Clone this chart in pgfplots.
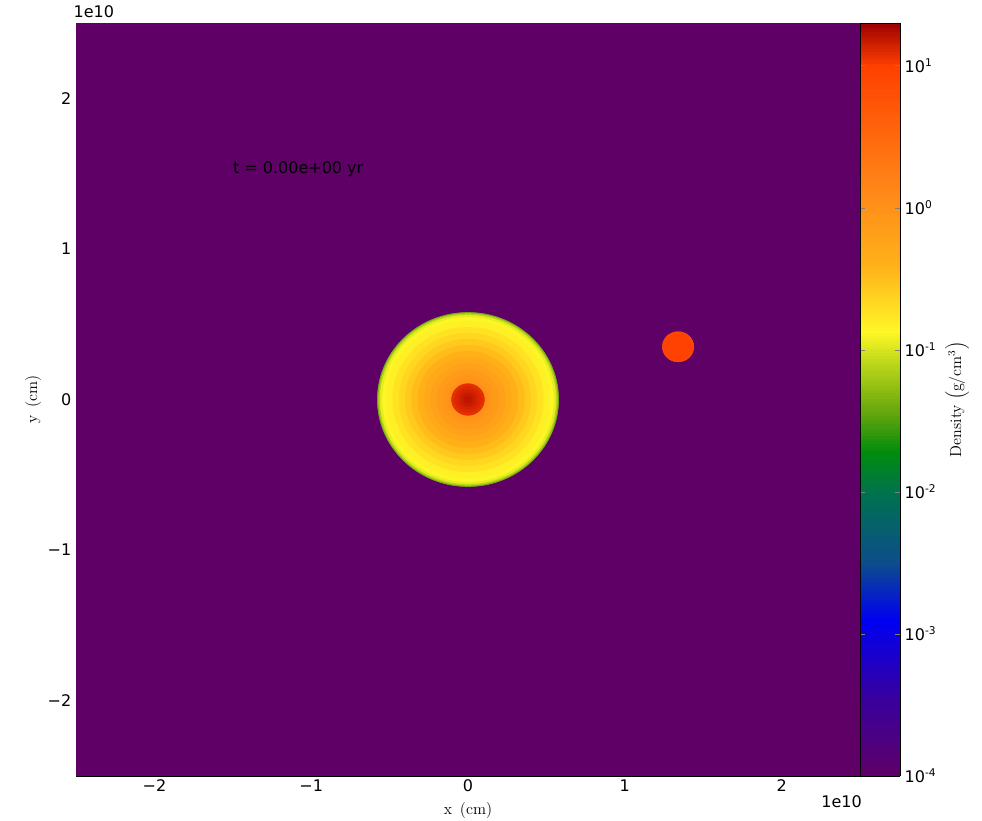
\documentclass[border=0pt]{standalone}
\usepackage{pgfplots}
\usepackage{pgfplotstable}
\pgfplotsset{compat=1.18}
\usepackage{fontspec}
\newfontfamily\dejavu{DejaVu Sans}

% radial density profile of the primary (x, y, r in 1e10 cm; log10 of g/cm^3)
\pgfplotstableread{
x    y    r      logrho
0    0    0.578  -1.35
0    0    0.570  -1.12
0    0    0.560  -0.95
0    0    0.545  -0.88
0    0    0.520  -0.82
0    0    0.480  -0.74
0    0    0.440  -0.66
0    0    0.400  -0.57
0    0    0.360  -0.48
0    0    0.320  -0.39
0    0    0.280  -0.30
0    0    0.240  -0.21
0    0    0.200  -0.12
0    0    0.160  -0.05
0    0    0.130   0.00
0    0    0.105   1.08
0    0    0.085   1.11
0    0    0.065   1.14
0    0    0.045   1.17
0    0    0.025   1.20
}\primary

% companion
\pgfplotstableread{
x     y     r      logrho
1.34  0.35  0.100  0.80
1.34  0.35  0.094  0.98
}\companion

\pgfplotsset{
  colormap={density}{
    rgb(0pt)=(0.37,0.00,0.40)
    rgb(55pt)=(0.22,0.00,0.62)
    rgb(110pt)=(0.00,0.00,0.95)
    rgb(150pt)=(0.05,0.30,0.55)
    rgb(200pt)=(0.00,0.45,0.30)
    rgb(228pt)=(0.00,0.55,0.05)
    rgb(256pt)=(0.40,0.65,0.05)
    rgb(292pt)=(0.75,0.85,0.10)
    rgb(313pt)=(1.00,0.97,0.15)
    rgb(358pt)=(1.00,0.70,0.10)
    rgb(406pt)=(1.00,0.55,0.10)
    rgb(453pt)=(1.00,0.40,0.05)
    rgb(500pt)=(1.00,0.25,0.00)
    rgb(530pt)=(0.62,0.00,0.00)
  },
  colorbar shift/.style={},
  disc/.style={scatter, only marks, mark=*, point meta=explicit,
    scatter/use mapped color={draw=mapped color, fill=mapped color},
    visualization depends on={\thisrow{r} \as \rad},
    scatter/@pre marker code/.append style={/tikz/mark size=\rad*112.95pt,
      /tikz/xscale=1.0412, /tikz/line width=0.2pt}},
}

\begin{document}
\begin{tikzpicture}
\useasboundingbox (-57pt,-33.75pt) rectangle (679.5pt,582pt);
\begin{axis}[
  at={(0,0)}, anchor=south west,
  scale only axis,
  width=588pt, height=564.75pt,
  xmin=-2.5, xmax=2.5, ymin=-2.5, ymax=2.5,
  clip mode=individual,
  colormap name=density,
  point meta min=-4, point meta max=1.3,
  xtick={-2,-1,0,1,2}, ytick={-2,-1,0,1,2},
  xticklabels={−2,−1,0,1,2},
  yticklabels={−2,−1,0,1,2},
  /pgf/number format/assume math mode=true,
  tick label style={font=\dejavu\fontsize{12}{14}\selectfont},
  xticklabel style={yshift=1pt},
  tick align=inside,
  major tick length=3pt,
  axis line style={black, line width=0.6pt},
  xlabel={$\mathrm{x}\ \left(\mathrm{cm}\right)$},
  ylabel={$\mathrm{y}\ \left(\mathrm{cm}\right)$},
  label style={font=\fontsize{12}{14}\selectfont},
  xlabel style={at={(axis description cs:0.5,-0.0452)}, anchor=center},
  ylabel style={at={(axis description cs:-0.0548,0.5)}, anchor=center},
  colorbar sampled,
  colorbar style={
    at={(parent axis.north east)}, anchor=north west,
    width=30pt, height=564.75pt,
    samples=266,
    ytick={-4,-3,-2,-1,0,1},
    yticklabels={10\textsuperscript{-4},10\textsuperscript{-3},10\textsuperscript{-2},
                 10\textsuperscript{-1},10\textsuperscript{0},10\textsuperscript{1}},
    yticklabel style={font=\dejavu\fontsize{12}{14}\selectfont},
    ytick align=inside,
    major tick length=4pt,
    axis line style={black, line width=0.6pt},
    ylabel={Density\ $\left(\mathrm{g/cm^3}\right)$},
    ylabel style={font=\fontsize{12}{14}\selectfont,
      at={(axis description cs:2.425,0.5)}, anchor=center},
  },
]
% ambient medium at the density floor
\addplot[patch, patch type=rectangle, shader=flat, point meta=explicit]
  coordinates {(-2.5,-2.5) [-4] (2.5,-2.5) [-4] (2.5,2.5) [-4] (-2.5,2.5) [-4]};

% stars as stacked discs, outermost first
\addplot[disc] table[x=x, y=y, meta=logrho] {\primary};
\addplot[disc] table[x=x, y=y, meta=logrho] {\companion};

\node[anchor=base west, font=\dejavu\fontsize{12}{14}\selectfont, inner sep=0pt]
  at (axis cs:-1.5,1.5) {t = 0.00e+00 yr};
\node[anchor=west, font=\dejavu\fontsize{12}{14}\selectfont, inner sep=0pt,
  yshift=8.25pt, xshift=-2pt] at (rel axis cs:0,1) {1e10};
\node[anchor=east, font=\dejavu\fontsize{12}{14}\selectfont, inner sep=0pt,
  yshift=-19.5pt, xshift=1.5pt] at (rel axis cs:1,0) {1e10};
\end{axis}
\end{tikzpicture}
\end{document}
